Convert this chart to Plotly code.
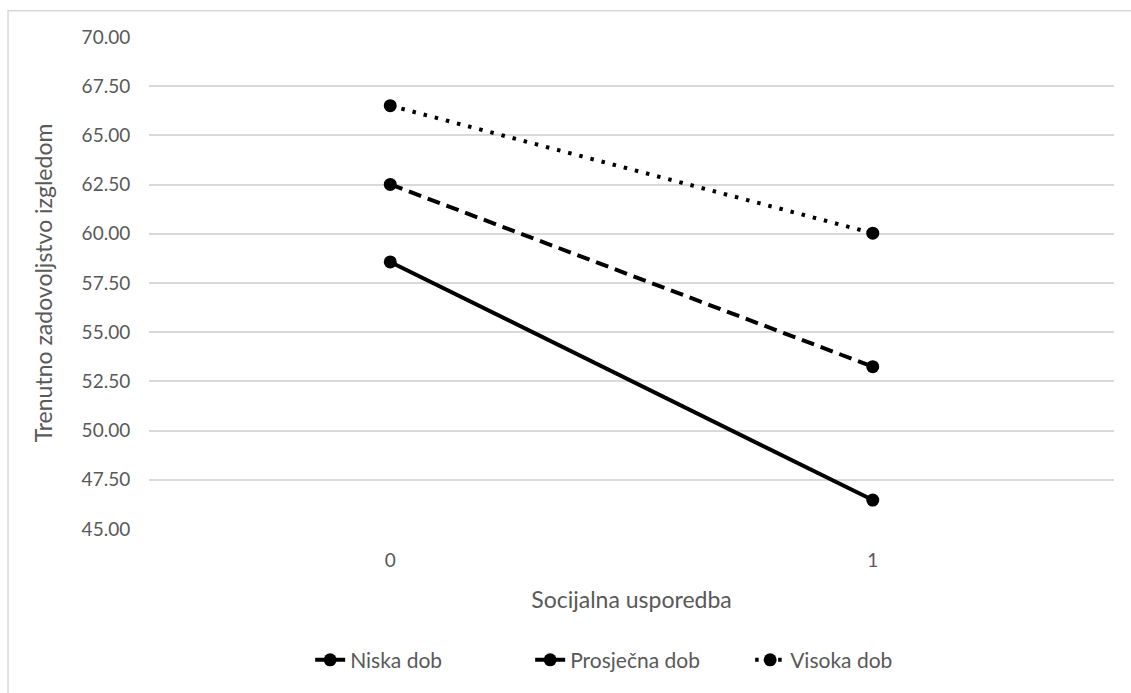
import plotly.graph_objects as go

categories = ["0", "1"]
series_names = ["Niska dob", "Prosječna dob", "Visoka dob"]
niska = [58.57, 46.47]
prosjecna = [62.51, 53.25]
visoka = [66.51, 60.03]
y_ticks = [45, 47.5, 50, 52.5, 55, 57.5, 60, 62.5, 65, 67.5, 70]

FONT = "Lato"
GRAY = "#595959"

dashes = ["solid", "13px,7px", "3.5px,8px"]
fig = go.Figure()
for name, vals, dash in zip(series_names, [niska, prosjecna, visoka], dashes):
    fig.add_trace(go.Scatter(
        x=categories, y=vals, name=name, mode="lines+markers",
        line=dict(color="black", width=4, dash=dash),
        marker=dict(color="black", size=13, symbol="circle"),
    ))

fig.update_layout(
    width=1131, height=693,
    paper_bgcolor="white", plot_bgcolor="white",
    margin=dict(l=149, r=17, t=37, b=162),
    font=dict(family=FONT, color=GRAY, size=19),
    showlegend=True,
    legend=dict(orientation="h", x=0.167, xanchor="left", y=-0.225, yanchor="top",
                font=dict(size=21, color=GRAY), traceorder="normal",
                entrywidth=175, entrywidthmode="pixels"),
    shapes=[dict(type="rect", xref="paper", yref="paper",
                 x0=-0.1461, x1=1.2, y0=-0.6, y1=1.0536,
                 line=dict(color="#d9d9d9", width=1.5), fillcolor="rgba(0,0,0,0)", layer="below")],
)
fig.update_xaxes(type="category", range=[-0.5, 1.5], showgrid=False, showline=False,
                 ticks="outside", ticklen=14, tickcolor="rgba(0,0,0,0)",
                 tickfont=dict(size=19, color=GRAY),
                 title=dict(text="Socijalna usporedba", font=dict(size=23, color=GRAY), standoff=22))
fig.update_yaxes(range=[45, 70], tickvals=y_ticks, tickformat=".2f",
                 showgrid=True, gridcolor="#d9d9d9", gridwidth=1.5, zeroline=False,
                 showline=False, ticks="outside", ticklen=14, tickcolor="rgba(0,0,0,0)",
                 tickfont=dict(size=19, color=GRAY),
                 title=dict(text="Trenutno zadovoljstvo izgledom", font=dict(size=23, color=GRAY), standoff=22))

fig.write_html("out.html", config={"displayModeBar": False},
               post_script="document.body.style.margin='0';")
